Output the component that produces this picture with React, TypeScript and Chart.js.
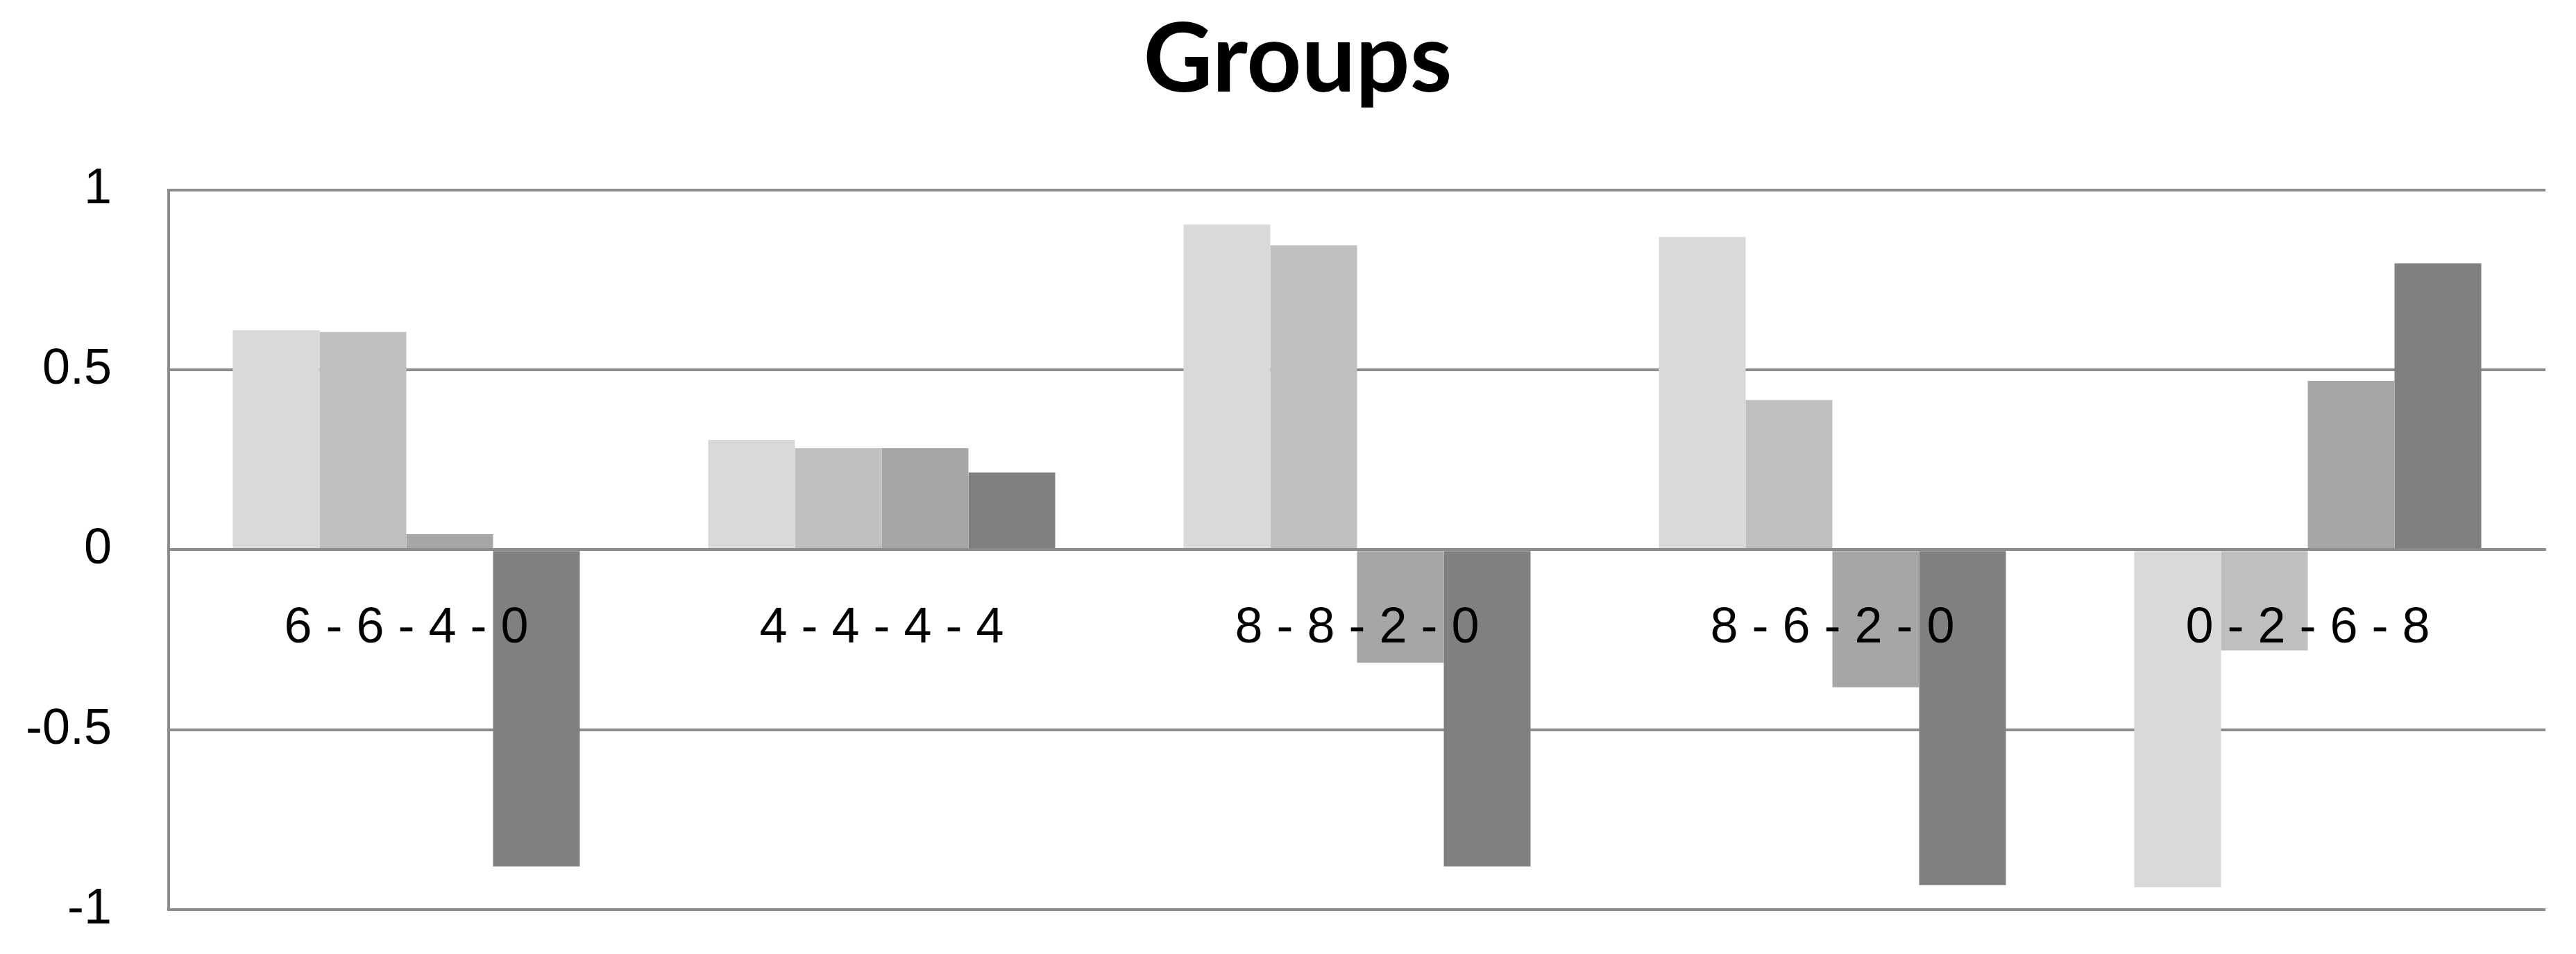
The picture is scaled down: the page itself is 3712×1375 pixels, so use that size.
import React, { useEffect, useRef } from "react";
import { Chart, registerables } from "chart.js";

Chart.register(...registerables);

const chartTitle = "Groups";
const categories = ["6 - 6 - 4 - 0", "4 - 4 - 4 - 4", "8 - 8 - 2 - 0", "8 - 6 - 2 - 0", "0 - 2 - 6 - 8"];
const series1 = [0.61, 0.305, 0.904, 0.869, -0.938];
const series2 = [0.605, 0.282, 0.846, 0.416, -0.28];
const series3 = [0.043, 0.282, -0.314, -0.382, 0.469];
const series4 = [-0.88, 0.2145, -0.88, -0.932, 0.796];
const seriesNames = ["Series 1", "Series 2", "Series 3", "Series 4"];
const seriesColors = ["#d9d9d9", "#bfbfbf", "#a6a6a6", "#808080"];
const yMin = -1;
const yMax = 1;
const yStep = 0.5;

const GRID = "#8c8c8c";
const PAD_LEFT = 28;
const AXIS_X = 243;
const RIGHT_GAP = 44;

export default function App() {
  const ref = useRef<HTMLCanvasElement | null>(null);

  useEffect(() => {
    document.body.style.margin = "0";
    const canvas = ref.current;
    if (!canvas) return;
    const values = [series1, series2, series3, series4];
    const chart = new Chart(canvas, {
      type: "bar",
      data: {
        labels: categories,
        datasets: values.map((v, i) => ({
          label: seriesNames[i],
          data: v,
          backgroundColor: seriesColors[i],
          borderWidth: 0,
          categoryPercentage: 0.73,
          barPercentage: 1.0,
          yAxisID: "y",
        })),
      },
      options: {
        animation: false,
        responsive: false,
        devicePixelRatio: 1,
        layout: { padding: { left: PAD_LEFT, right: 0, top: 0, bottom: 64 } },
        plugins: {
          legend: { display: false },
          tooltip: { enabled: false },
          title: {
            display: true,
            text: chartTitle,
            color: "#000",
            font: { family: "Lato", weight: "bold", size: 138, lineHeight: 1.2 },
            padding: { top: 5, bottom: 103 },
          },
        },
        scales: {
          x: {
            position: { y: 0 } as any,
            grid: { display: false, drawTicks: false },
            border: { display: true, color: GRID, width: 4, z: 1 } as any,
            ticks: {
              z: 1,
              color: "#000",
              font: { family: "Liberation Sans", size: 72 },
              padding: 71,
              maxRotation: 0,
              autoSkip: false,
            },
          },
          y: {
            position: "left",
            min: yMin,
            max: yMax,
            afterFit: (scale: any) => {
              scale.width = AXIS_X - PAD_LEFT;
            },
            grid: {
              color: GRID,
              lineWidth: 4,
              drawTicks: true,
              tickLength: 80,
              tickColor: "rgba(0,0,0,0)",
            },
            border: { display: true, color: GRID, width: 4 },
            ticks: {
              stepSize: yStep,
              color: "#000",
              font: { family: "Liberation Sans", size: 72 },
              padding: 2,
              callback: (v: any) => String(v),
            },
          },
          yRightSpace: {
            type: "linear",
            position: "right",
            display: true,
            grid: { display: false, drawTicks: false },
            border: { display: false },
            ticks: { display: false },
            afterFit: (scale: any) => {
              scale.width = RIGHT_GAP;
            },
          },
        },
      },
    });
    return () => chart.destroy();
  }, []);

  return (
    <div style={{ position: "fixed", left: 0, top: 0, width: 3712, height: 1375, background: "#fff" }}>
      <canvas ref={ref} width={3712} height={1375} style={{ display: "block" }} />
    </div>
  );
}
